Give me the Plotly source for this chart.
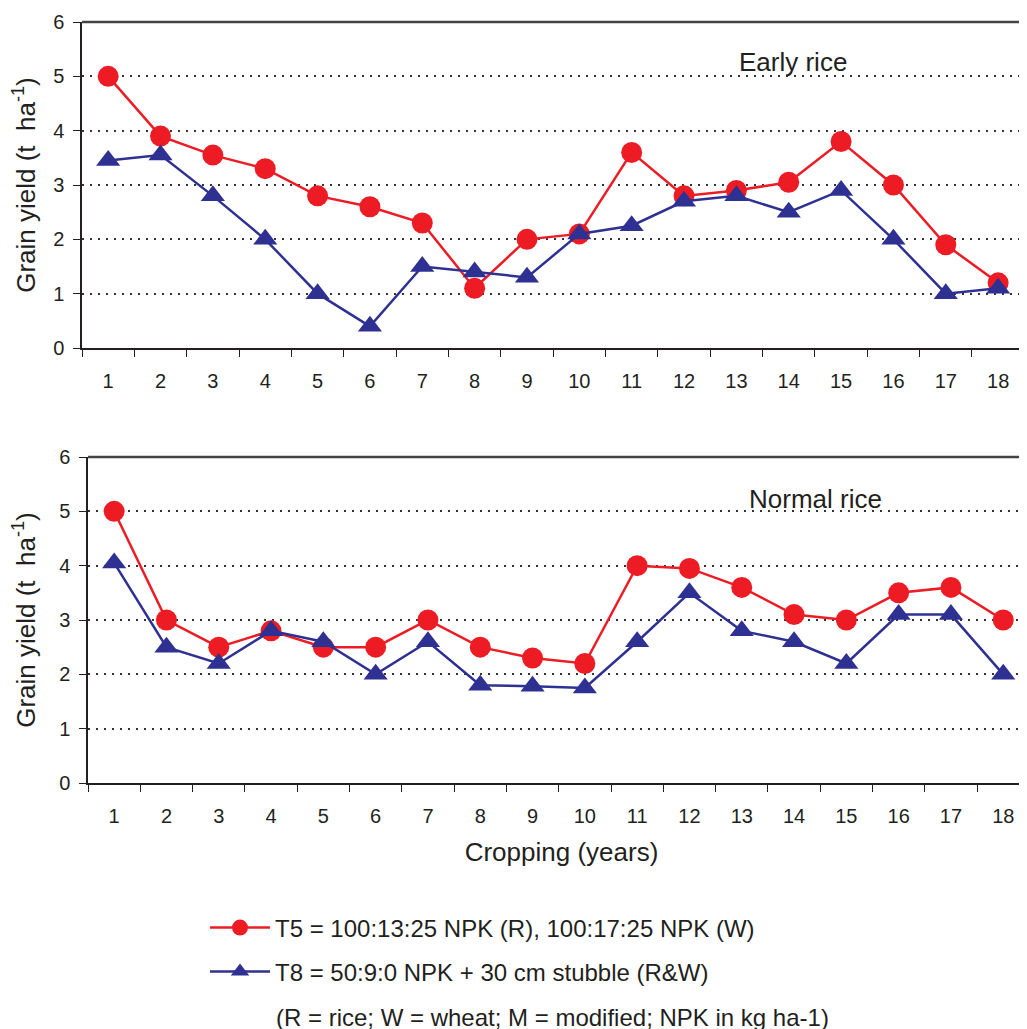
import plotly.graph_objects as go

years = list(range(1, 19))
tick_labels = [str(v) for v in years]

early_t5 = [5.0, 3.9, 3.55, 3.3, 2.8, 2.6, 2.3, 1.1, 2.0, 2.1, 3.6, 2.8, 2.9, 3.05, 3.8, 3.0, 1.9, 1.2]
early_t8 = [3.45, 3.55, 2.8, 2.0, 1.0, 0.4, 1.5, 1.4, 1.3, 2.1, 2.25, 2.7, 2.8, 2.5, 2.9, 2.0, 1.0, 1.1]
normal_t5 = [5.0, 3.0, 2.5, 2.8, 2.5, 2.5, 3.0, 2.5, 2.3, 2.2, 4.0, 3.95, 3.6, 3.1, 3.0, 3.5, 3.6, 3.0]
normal_t8 = [4.05, 2.5, 2.2, 2.8, 2.6, 2.0, 2.6, 1.8, 1.78, 1.75, 2.6, 3.5, 2.8, 2.6, 2.2, 3.1, 3.1, 2.0]

name_t5 = "T5 = 100:13:25 NPK (R), 100:17:25 NPK (W)"
name_t8 = "T8 = 50:9:0 NPK + 30 cm stubble (R&W)"
note = "(R = rice; W = wheat; M = modified; NPK in kg ha-1)"

RED = "#ED1C24"
BLUE = "#2E3192"
TXT = "#231F20"
FONT = "Liberation Sans, Arial, sans-serif"

fig = go.Figure()

def add(y, color, symbol, xa, ya, name, show, legend):
    fig.add_trace(go.Scatter(
        x=years, y=y, mode="lines+markers", name=name,
        line=dict(color=color, width=2.5),
        marker=dict(color=color, symbol=symbol, size=21),
        xaxis=xa, yaxis=ya, showlegend=show, legend=legend,
    ))

add(early_t5, RED, "circle", "x", "y", name_t5, False, "legend")
add(early_t8, BLUE, "triangle-up", "x", "y", name_t8, False, "legend2")
add(normal_t5, RED, "circle", "x2", "y2", name_t5, True, "legend")
add(normal_t8, BLUE, "triangle-up", "x2", "y2", name_t8, True, "legend2")

H = 1029.0
W = 1027.0
OFF = 8  # page body margin

def px_x(p):
    return (p - OFF) / W

def px_y(p):
    return 1 - (p - OFF) / H

def xaxis_cfg(left_px, cat_w, title=None):
    right_val = 0.5 + (W + OFF - left_px) / cat_w
    cfg = dict(
        domain=[px_x(left_px), 1], range=[0.5, right_val],
        tickmode="array", tickvals=years, ticktext=tick_labels,
        ticks="outside", ticklen=14, tickcolor="rgba(0,0,0,0)",
        tickfont=dict(size=20, color=TXT, family=FONT),
        showline=True, linecolor="#231F20", linewidth=1.5,
        showgrid=False, zeroline=False, automargin=False,
        minor=dict(tickmode="linear", tick0=0.5, dtick=1, ticks="outside",
                   ticklen=7, tickcolor="#231F20", tickwidth=1.2, showgrid=False),
        fixedrange=True,
    )
    if title:
        cfg["title"] = dict(text=title, font=dict(size=26, color=TXT, family=FONT), standoff=17)
    return cfg

def yaxis_cfg(top_px, bot_px, anchor, standoff):
    return dict(
        domain=[px_y(bot_px), px_y(top_px)], range=[0, 6],
        tickmode="array", tickvals=[0, 1, 2, 3, 4, 5, 6],
        ticks="outside", ticklen=7, tickcolor="#231F20", tickwidth=1.2,
        ticklabelstandoff=5,
        tickfont=dict(size=20, color=TXT, family=FONT),
        showline=True, linecolor="#231F20", linewidth=1.5,
        showgrid=True, gridcolor="#333333", gridwidth=1.5, griddash="2px,6px",
        zeroline=False, anchor=anchor, automargin=False,
        title=dict(text="Grain yield (t  ha<sup>-1</sup>)",
                   font=dict(size=26, color=TXT, family=FONT), standoff=standoff),
        fixedrange=True,
    )

fig.update_layout(
    width=1027, height=1029,
    margin=dict(l=0, r=0, t=0, b=0, autoexpand=False),
    paper_bgcolor="white", plot_bgcolor="white",
    font=dict(family=FONT, color=TXT),
    xaxis=xaxis_cfg(82, 52.35),
    yaxis=yaxis_cfg(22, 348, "x", 12),
    xaxis2=dict(xaxis_cfg(88, 52.3, "Cropping (years)"), anchor="y2"),
    yaxis2=yaxis_cfg(457, 783, "x2", 26),
    legend=dict(x=px_x(205), y=px_y(928), xanchor="left", yanchor="middle",
                font=dict(size=24, color=TXT, family=FONT), bgcolor="rgba(0,0,0,0)",
                itemwidth=60),
    legend2=dict(x=px_x(205), y=px_y(972), xanchor="left", yanchor="middle",
                 font=dict(size=24, color=TXT, family=FONT), bgcolor="rgba(0,0,0,0)",
                 itemwidth=60),
    annotations=[
        dict(text="Early rice", x=px_x(793), y=px_y(62), xref="paper", yref="paper",
             xanchor="center", yanchor="middle",
             showarrow=False, font=dict(size=26, color=TXT, family=FONT)),
        dict(text="Normal rice", x=px_x(815), y=px_y(499), xref="paper", yref="paper",
             xanchor="center", yanchor="middle",
             showarrow=False, font=dict(size=26, color=TXT, family=FONT)),
        dict(text=note, x=px_x(274), y=px_y(1017), xref="paper", yref="paper",
             xanchor="left", yanchor="middle",
             showarrow=False, font=dict(size=24, color=TXT, family=FONT)),
    ],
    shapes=[
        dict(type="line", xref="x domain", yref="y domain", x0=0, x1=1, y0=1, y1=1,
             line=dict(color="#444444", width=2.5)),
        dict(type="line", xref="x2 domain", yref="y2 domain", x0=0, x1=1, y0=1, y1=1,
             line=dict(color="#444444", width=2.5)),
    ],
)

fig.write_html("out.html")
